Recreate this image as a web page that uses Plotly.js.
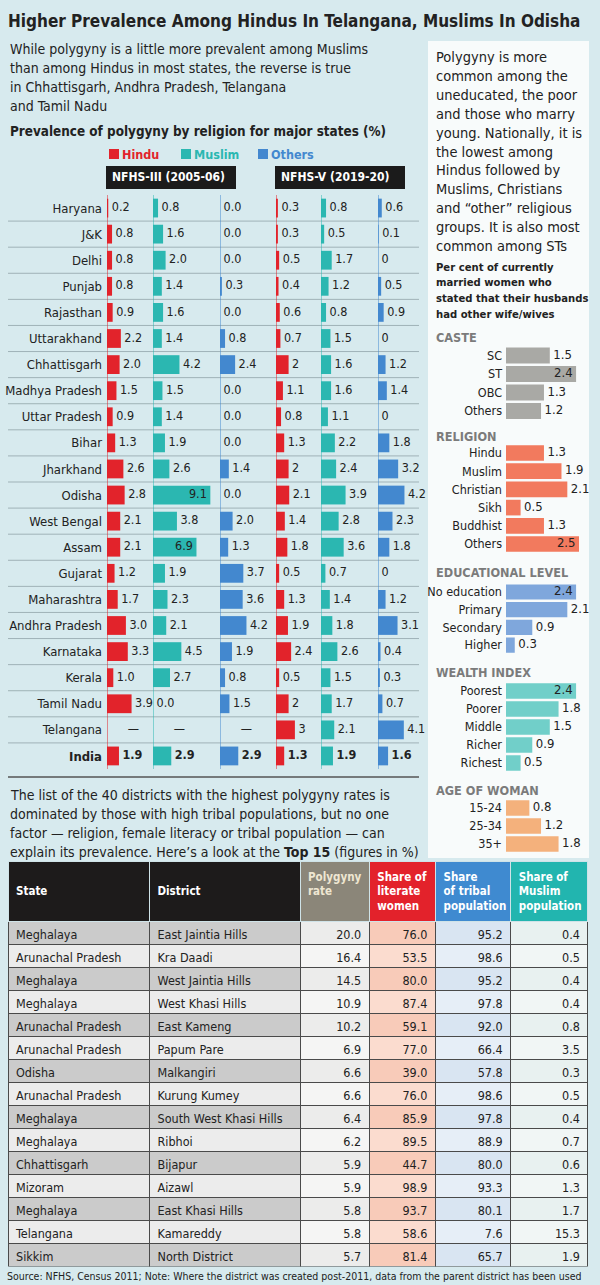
<!DOCTYPE html>
<html><head><meta charset="utf-8">
<script src="https://cdn.plot.ly/plotly-3.0.1.min.js"></script>
<style>html,body{margin:0;padding:0;background:#d7eaee;}#chart{width:600px;height:1285px;}</style>
</head><body><div id="chart"></div>
<script>
// ---------- DATA ----------
const states = ['Haryana','J&K','Delhi','Punjab','Rajasthan','Uttarakhand','Chhattisgarh','Madhya Pradesh','Uttar Pradesh','Bihar','Jharkhand','Odisha','West Bengal','Assam','Gujarat','Maharashtra','Andhra Pradesh','Karnataka','Kerala','Tamil Nadu','Telangana','India'];
const hindu3  = ['0.2','0.8','0.8','0.8','0.9','2.2','2.0','1.5','0.9','1.3','2.6','2.8','2.1','2.1','1.2','1.7','3.0','3.3','1.0','3.9','—','1.9'];
const muslim3 = ['0.8','1.6','2.0','1.4','1.6','1.4','4.2','1.5','1.4','1.9','2.6','9.1','3.8','6.9','1.9','2.3','2.1','4.5','2.7','0.0','—','2.9'];
const others3 = ['0.0','0.0','0.0','0.3','0.0','0.8','2.4','0.0','0.0','0.0','1.4','0.0','2.0','1.3','3.7','3.6','4.2','1.9','0.8','1.5','—','2.9'];
const hindu5  = ['0.3','0.3','0.5','0.4','0.6','0.7','2','1.1','0.8','1.3','2','2.1','1.4','1.8','0.5','1.3','1.9','2.4','0.5','2','3','1.3'];
const muslim5 = ['0.8','0.5','1.7','1.2','0.8','1.5','1.6','1.6','1.1','2.2','2.4','3.9','2.8','3.6','0.7','1.4','1.8','2.6','1.5','1.7','2.1','1.9'];
const others5 = ['0.6','0.1','0','0.5','0.9','0','1.2','1.4','0','1.8','3.2','4.2','2.3','1.8','0','1.2','3.1','0.4','0.3','0.7','4.1','1.6'];
const seriesNames = ['Hindu','Muslim','Others'];
const surveyNames = ['NFHS-III (2005-06)','NFHS-V (2019-20)'];

const casteCats = ['SC','ST','OBC','Others'];
const casteVals = [1.5,2.4,1.3,1.2];
const religionCats = ['Hindu','Muslim','Christian','Sikh','Buddhist','Others'];
const religionVals = [1.3,1.9,2.1,0.5,1.3,2.5];
const eduCats = ['No education','Primary','Secondary','Higher'];
const eduVals = [2.4,2.1,0.9,0.3];
const wealthCats = ['Poorest','Poorer','Middle','Richer','Richest'];
const wealthVals = [2.4,1.8,1.5,0.9,0.5];
const ageCats = ['15-24','25-34','35+'];
const ageVals = [0.8,1.2,1.8];

const tHeaders = ['State','District','Polygyny<br>rate','Share of<br>literate<br>women','Share<br>of tribal<br>population','Share of<br>Muslim<br>population'];
const tStates = ['Meghalaya','Arunachal Pradesh','Meghalaya','Meghalaya','Arunachal Pradesh','Arunachal Pradesh','Odisha','Arunachal Pradesh','Meghalaya','Meghalaya','Chhattisgarh','Mizoram','Meghalaya','Telangana','Sikkim'];
const tDistricts = ['East Jaintia Hills','Kra Daadi','West Jaintia Hills','West Khasi Hills','East Kameng','Papum Pare','Malkangiri','Kurung Kumey','South West Khasi Hills','Ribhoi','Bijapur','Aizawl','East Khasi Hills','Kamareddy','North District'];
const tPolygyny = ['20.0','16.4','14.5','10.9','10.2','6.9','6.6','6.6','6.4','6.2','5.9','5.9','5.8','5.8','5.7'];
const tLiterate = ['76.0','53.5','80.0','87.4','59.1','77.0','39.0','76.0','85.9','89.5','44.7','98.9','93.7','58.6','81.4'];
const tTribal = ['95.2','98.6','95.2','97.8','92.0','66.4','57.8','98.6','97.8','88.9','80.0','93.3','80.1','7.6','65.7'];
const tMuslim = ['0.4','0.5','0.4','0.4','0.8','3.5','0.3','0.5','0.4','0.7','0.6','1.3','1.7','15.3','1.9'];

const titleText = 'Higher Prevalence Among Hindus In Telangana, Muslims In Odisha';
const introLines = ['While polygyny is a little more prevalent among Muslims','than among Hindus in most states, the reverse is true','in Chhattisgarh, Andhra Pradesh, Telangana','and Tamil Nadu'];
const chartTitle = 'Prevalence of polygyny by religion for major states (%)';
const sideLines = ['Polygyny is more','common among the','uneducated, the poor','and those who marry','young. Nationally, it is','the lowest among','Hindus followed by','Muslims, Christians','and “other” religious','groups. It is also most','common among STs'];
const sideBold = ['Per cent of currently','married women who','stated that their husbands','had other wife/wives'];
const lowerLines = ['The list of the 40 districts with the highest polygyny rates is','dominated by those with high tribal populations, but no one','factor — religion, female literacy or tribal population — can','explain its prevalence. Here’s a look at the <b>Top 15</b> (figures in %)'];
const sourceText = 'Source: NFHS, Census 2011; Note: Where the district was created post-2011, data from the parent district has been used';

// ---------- LAYOUT HELPERS ----------
const W=600, H=1285;
const px = x => x/W, py = y => 1 - y/H;
const F = "'DejaVu Sans Condensed','Liberation Sans Narrow',sans-serif";
const DARK = '#222';
const RED='#e2232b', TEAL='#2bb7b1', BLUE='#4388cf';
const BG = '#d7eaee';

const traces=[], shapes=[], annotations=[];
const layout = {
  width:W, height:H, margin:{l:0,r:0,t:0,b:0},
  paper_bgcolor:BG, plot_bgcolor:'rgba(0,0,0,0)',
  showlegend:false, font:{family:F, color:DARK},
  shapes:shapes, annotations:annotations
};
function ann(text,x,y,size,opts={}){
  annotations.push(Object.assign({xref:'paper',yref:'paper',x:px(x),y:py(y),xanchor:'left',yanchor:'middle',
    text:text,showarrow:false,font:{family:F,size:size,color:opts.color||DARK}},opts.extra||{}));
}
function lines(arr,x,y0,step,size,opts){ arr.forEach((t,i)=>ann(t,x,y0+i*step,size,opts)); }
function rect(x0,y0,x1,y1,color){ shapes.push({type:'rect',xref:'paper',yref:'paper',x0:px(x0),x1:px(x1),y0:py(y1),y1:py(y0),fillcolor:color,line:{width:0},layer:'below'}); }

// right white panel
rect(428,41,589,858,'#f8fbfb');

// titles
ann('<b>'+titleText+'</b>',6,21,17);
lines(introLines,8,49,18.9,14);
ann('<b>'+chartTitle+'</b>',8,132,13.4);

// legend
const serColors=[RED,TEAL,BLUE];
const legX=[109,181,258];
seriesNames.forEach((n,i)=>{
  rect(legX[i],149,legX[i]+10,159,serColors[i]);
  ann('<b>'+n+'</b>',legX[i]+11,154,12.5,{color:serColors[i]});
});
// survey header boxes
[[106,236],[275,405]].forEach((b,i)=>{
  rect(b[0],166,b[1],189,'#1b1b1b');
  ann('<b>'+surveyNames[i]+'</b>',b[0]+4,177.5,12,{color:'#ffffff'});
});

// ---------- LEFT CHART ----------
const K = 6.3, colW = 70;
const cols = [
  {vals:hindu3,x0:107,color:RED},{vals:muslim3,x0:153,color:TEAL},{vals:others3,x0:220,color:BLUE},
  {vals:hindu5,x0:276,color:RED},{vals:muslim5,x0:321,color:TEAL},{vals:others5,x0:378,color:BLUE}
];
const n = states.length;
layout.yaxis = {domain:[py(769),py(195)], type:'category', range:[n-0.5,-0.5], anchor:'x',
  showgrid:false, zeroline:false, showline:false, ticks:'', tickmode:'array', tickvals:states,
  ticktext:states.map(s=>s==='India'?'<b>'+s+'</b>':s), tickfont:{size:13,color:DARK,family:F}, ticklabelstandoff:4, fixedrange:true};
for(let i=0;i<n-1;i++){
  shapes.push({type:'line',xref:'paper',yref:'y',x0:px(8),x1:px(419),y0:i+0.5,y1:i+0.5,line:{color:'#9fb2b7',width:1}});
}
cols.forEach((c,i)=>{
  const ax = i===0?'x':'x'+(i+1);
  layout[i===0?'xaxis':'xaxis'+(i+1)] = {domain:[px(c.x0),px(c.x0+colW)], range:[0,colW/K], anchor:'y', visible:false, fixedrange:true};
  const nums = c.vals.map(v=>{const f=parseFloat(v); return isNaN(f)?null:f;});
  traces.push({type:'bar',orientation:'h',x:nums,y:states,xaxis:ax,yaxis:'y',width:0.72,marker:{color:c.color},hoverinfo:'skip'});
  traces.push({type:'scatter',mode:'markers+text',xaxis:ax,yaxis:'y',y:states,
    x:nums.map(v=>v===null?4.2:v),
    text:c.vals.map((v,j)=>states[j]==='India'?'<b>'+v+'</b>':v),
    textposition:nums.map(v=>v===null?'middle center':(v>6?'middle left':'middle right')),
    marker:{size:4,color:'rgba(0,0,0,0)'}, textfont:{family:F,size:12.5,color:DARK}, cliponaxis:false, hoverinfo:'skip'});
  shapes.push({type:'line',xref:ax,yref:'y',x0:0,x1:0,y0:-0.5,y1:n-0.5,line:{color:c.color,width:1}});
});

// ---------- RIGHT PANEL ----------
lines(sideLines,434,57,18.9,14.5);
lines(sideBold.map(t=>'<b>'+t+'</b>'),434,267,15.7,11.2);
const K2 = 29.2;
layout.xaxis7 = {domain:[px(506),px(589)], range:[0,83/K2], anchor:'y2', visible:false, fixedrange:true};
const groups = [
  {head:'CASTE',headY:338,cats:casteCats,vals:casteVals,color:'#a9a9a5',c0:355.5,pitch:18.5},
  {head:'RELIGION',headY:436,cats:religionCats,vals:religionVals,color:'#f27a5e',c0:453,pitch:18.2},
  {head:'EDUCATIONAL LEVEL',headY:572,cats:eduCats,vals:eduVals,color:'#7fa7dc',c0:592,pitch:17.7},
  {head:'WEALTH INDEX',headY:672,cats:wealthCats,vals:wealthVals,color:'#71cfc9',c0:691,pitch:18},
  {head:'AGE OF WOMAN',headY:790,cats:ageCats,vals:ageVals,color:'#f4b17c',c0:808,pitch:18}
];
groups.forEach((g,i)=>{
  const yk = 'y'+(i+2);
  const top = g.c0 - g.pitch/2, bot = top + g.pitch*g.cats.length;
  layout['yaxis'+(i+2)] = {domain:[py(bot),py(top)], type:'category', range:[g.cats.length-0.5,-0.5], anchor:'x7',
    showgrid:false, zeroline:false, showline:false, ticks:'', tickmode:'array', tickvals:g.cats, ticktext:g.cats,
    tickfont:{size:12.5,color:DARK,family:F}, ticklabelstandoff:3, fixedrange:true};
  ann('<b>'+g.head+'</b>',434,g.headY,12.6,{color:'#7b7b7b'});
  traces.push({type:'bar',orientation:'h',x:g.vals,y:g.cats,xaxis:'x7',yaxis:yk,width:0.86,marker:{color:g.color},hoverinfo:'skip'});
  traces.push({type:'scatter',mode:'markers+text',xaxis:'x7',yaxis:yk,x:g.vals,y:g.cats,
    text:g.vals.map(v=>v.toFixed(1)), textposition:g.vals.map(v=>v>2.2?'middle left':'middle right'),
    marker:{size:4,color:'rgba(0,0,0,0)'}, textfont:{family:F,size:13,color:DARK}, cliponaxis:false, hoverinfo:'skip'});
});

// ---------- LOWER SECTION ----------
shapes.push({type:'line',xref:'paper',yref:'paper',x0:px(8),x1:px(419),y0:py(777),y1:py(777),line:{color:'#555',width:1.5}});
lines(lowerLines,8,795,18.9,14);

const alt = (a,b)=>tStates.map((_,i)=>i%2===0?a:b);
traces.push({type:'table', domain:{x:[px(8),px(588)], y:[py(1267),py(861.5)]},
  columnwidth:[141,150,69,66,75,77],
  header:{values:tHeaders.map((h,i)=>i<2?'<b> <br>'+h+'</b>':'<b>'+h+'</b>'), align:'left', height:55,
    fill:{color:['#1d1b1b','#1d1b1b','#8b8679','#e3222b','#3f8ad0','#22b5af']},
    line:{color:'#cfe3e8',width:1}, font:{family:F,size:11.5,color:['#fff','#fff','#efe6d2','#fff','#fff','#fff']}},
  cells:{values:[tStates,tDistricts,tPolygyny,tLiterate,tTribal,tMuslim], align:['left','left','right','right','right','right'], height:23,
    fill:{color:[alt('#cbcbcb','#ececec'),alt('#cbcbcb','#ececec'),alt('#ececeb','#f5f5f4'),alt('#f8cbb9','#fbdccf'),alt('#d9e5f2','#e6eef7'),alt('#e8f1f0','#f1f6f5')]},
    line:{color:'#4a4a4a',width:1}, font:{family:F,size:12.5,color:DARK}}
});
ann(sourceText,5,1276,10.5);

Plotly.newPlot('chart',traces,layout,{displayModeBar:false,staticPlot:true});
</script></body></html>
